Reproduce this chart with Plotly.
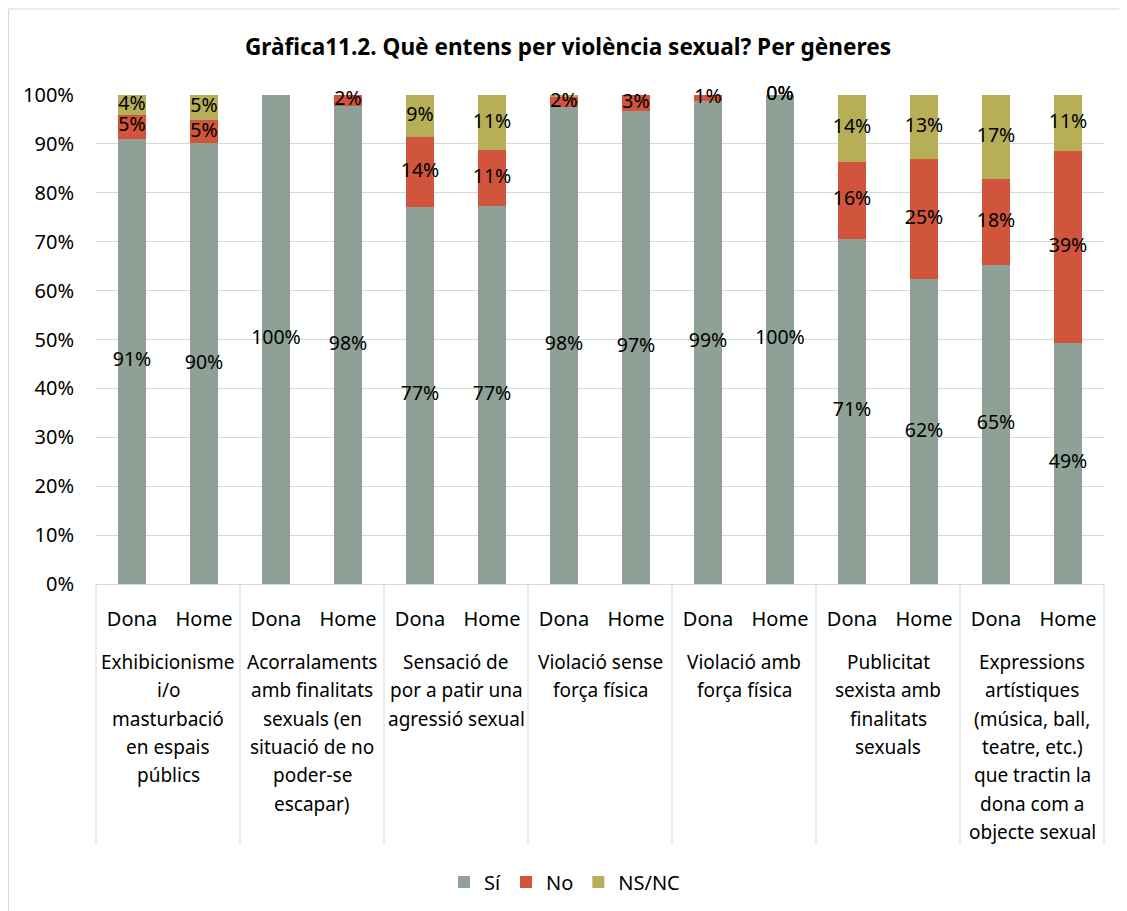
import plotly.graph_objects as go

categories = [
    "Exhibicionisme<br>i/o<br>masturbació<br>en espais<br>públics",
    "Acorralaments<br>amb finalitats<br>sexuals (en<br>situació de no<br>poder-se<br>escapar)",
    "Sensació de<br>por a patir una<br>agressió sexual",
    "Violació sense<br>força física",
    "Violació amb<br>força física",
    "Publicitat<br>sexista amb<br>finalitats<br>sexuals",
    "Expressions<br>artístiques<br>(música, ball,<br>teatre, etc.)<br>que tractin la<br>dona com a<br>objecte sexual",
]
genders = ["Dona", "Home"]

si = [91.1, 90.1, 100, 97.8, 77.1, 77.4, 97.6, 96.7, 98.8, 100, 70.6, 62.3, 65.3, 49.3]
no = [4.9, 4.8, 0, 2.2, 14.3, 11.3, 2.0, 3.3, 1.2, 0, 15.7, 24.6, 17.6, 39.3]
ns = [4.0, 5.1, 0, 0, 8.6, 11.3, 0.4, 0, 0, 0, 13.7, 13.1, 17.1, 11.4]

si_labels = ["91%", "90%", "100%", "98%", "77%", "77%", "98%", "97%", "99%", "100%", "71%", "62%", "65%", "49%"]
no_labels = ["5%", "5%", "", "2%", "14%", "11%", "2%", "3%", "1%", "0%", "16%", "25%", "18%", "39%"]
ns_labels = ["4%", "5%", "", "", "9%", "11%", "", "", "", "0%", "14%", "13%", "17%", "11%"]

series_names = ["Sí", "No", "NS/NC"]
colors = ["#8FA096", "#D0553C", "#B6AF58"]

FONT = "Noto Sans"
GRID = "#D9D9D9"

# figure geometry (page body has an 8px margin)
W, H = 1119, 903
ML, MR, MT, MB = 88, 23, 87, 327
PW, PH = W - ML - MR, H - MT - MB

n_g = len(genders)
n = len(categories) * n_g
pos = list(range(n))
inner = [g for _ in categories for g in genders]
x0r, x1r = -0.5, n - 0.5

def px_to_paper_y(px_below_axis):
    return -px_below_axis / PH

fig = go.Figure()
vals = [si, no, ns]
labels = [si_labels, no_labels, ns_labels]
for name, v, col in zip(series_names, vals, colors):
    fig.add_trace(go.Bar(x=pos, y=v, name=name, width=0.39,
                         marker=dict(color=col, line=dict(width=0)), hoverinfo="skip"))

base = [0] * n
for v, lab in zip(vals, labels):
    ys = [b + val / 2 for b, val in zip(base, v)]
    fig.add_trace(go.Scatter(x=pos, y=ys, mode="text", text=lab, showlegend=False,
                             textfont=dict(family=FONT, size=19.5, color="#000000"),
                             textposition="middle center", hoverinfo="skip", cliponaxis=False))
    base = [b + val for b, val in zip(base, v)]

annotations = []
LINE0, LINE_H = 78, 28.3
for i, cat in enumerate(categories):
    xc = i * n_g + (n_g - 1) / 2
    for j, line in enumerate(cat.split("<br>")):
        annotations.append(dict(x=xc, xref="x", y=px_to_paper_y(LINE0 + j * LINE_H), yref="paper",
                                text=line, showarrow=False, xanchor="center", yanchor="middle",
                                font=dict(family=FONT, size=19, color="#000000")))

shapes = []
DIV_LEN = 261
for k in range(len(categories) + 1):
    xb = k * n_g - 0.5
    xp = (xb - x0r) / (x1r - x0r)
    shapes.append(dict(type="line", xref="paper", yref="paper", x0=xp, x1=xp,
                       y0=0, y1=px_to_paper_y(DIV_LEN), line=dict(color=GRID, width=1)))
shapes.append(dict(type="rect", xref="paper", yref="paper",
                   x0=(0.5 - ML) / PW, x1=(W + 20 - ML) / PW,
                   y0=-(H + 20 - MT - PH) / PH, y1=(PH + MT - 1) / PH,
                   line=dict(color=GRID, width=1), fillcolor="rgba(0,0,0,0)", layer="below"))

fig.update_layout(
    width=W, height=H,
    barmode="stack",
    paper_bgcolor="white", plot_bgcolor="white",
    margin=dict(l=ML, r=MR, t=MT, b=MB, autoexpand=False),
    font=dict(family=FONT, size=20, color="#000000"),
    title=dict(text="<b>Gràfica11.2. Què entens per violència sexual? Per gèneres</b>",
               x=560 / W, xref="container", xanchor="center", y=1 - 39 / H, yanchor="middle",
               font=dict(family=FONT, size=22.6, color="#000000")),
    legend=dict(orientation="h", x=(557 - ML) / PW, xanchor="center", y=px_to_paper_y(298),
                yanchor="middle", font=dict(family=FONT, size=20), traceorder="normal",
                itemwidth=30),
    xaxis=dict(range=[x0r, x1r], tickmode="array", tickvals=pos, ticktext=inner,
               showline=True, linecolor=GRID, linewidth=1, showgrid=False, zeroline=False,
               ticks="", ticklabelstandoff=17, tickfont=dict(family=FONT, size=20)),
    yaxis=dict(range=[0, 100], dtick=10, ticksuffix="%", showgrid=True, gridcolor=GRID,
               gridwidth=1, zeroline=False, showline=False, ticks="", ticklabelstandoff=21,
               tickfont=dict(family=FONT, size=20)),
    annotations=annotations,
    shapes=shapes,
)

fig.write_html("out.html")
